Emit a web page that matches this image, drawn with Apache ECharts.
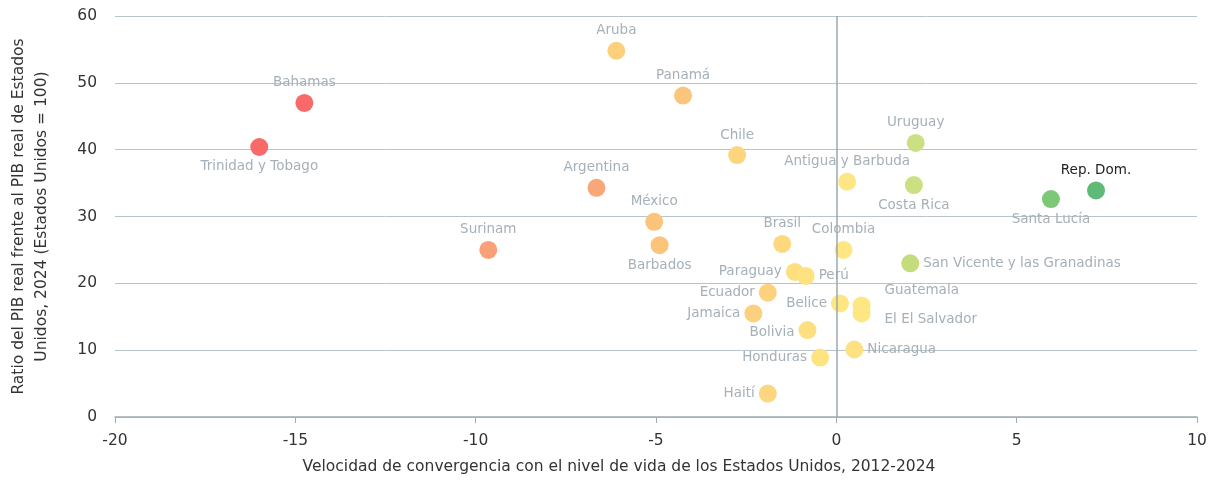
<!DOCTYPE html>
<html>
<head>
<meta charset="utf-8">
<script src="https://cdn.jsdelivr.net/npm/echarts@6/dist/echarts.min.js"></script>
<style>
  html, body { margin: 0; padding: 0; background: #fff; }
  #chart { width: 1209px; height: 482px; }
</style>
</head>
<body>
<div id="chart"></div>
<script>
// country names, x = convergence speed, y = GDP ratio vs US
const countries = ['Aruba', 'Panamá', 'Bahamas', 'Trinidad y Tobago', 'Chile', 'Uruguay',
  'Antigua y Barbuda', 'Costa Rica', 'Rep. Dom.', 'Santa Lucía', 'Argentina', 'México',
  'Surinam', 'Barbados', 'Brasil', 'Colombia', 'San Vicente y las Granadinas', 'Paraguay',
  'Perú', 'Ecuador', 'Belice', 'Guatemala', 'El El Salvador', 'Jamaica', 'Bolivia',
  'Nicaragua', 'Honduras', 'Haití']
const speed = [-6.1, -4.25, -14.75, -16.0, -2.75, 2.2, 0.3, 2.15, 7.2, 5.95, -6.65, -5.05,
  -9.65, -4.9, -1.5, 0.2, 2.05, -1.15, -0.85, -1.9, 0.1, 0.7, 0.7, -2.3, -0.8, 0.5, -0.45, -1.9]
const ratio = [54.8, 48.1, 47.0, 40.4, 39.2, 41.0, 35.2, 34.7, 33.9, 32.6, 34.3, 29.2,
  25.0, 25.7, 25.9, 25.0, 23.0, 21.7, 21.1, 18.6, 17.0, 16.7, 15.5, 15.5, 13.0, 10.1, 8.9, 3.5]
const dotColors = ['#fdd07e', '#fcc57c', '#f86a6a', '#f86a6a', '#fdd57f', '#cbe082',
  '#fee682', '#cbe082', '#5fba78', '#7cc877', '#f9a678', '#fcc47a',
  '#f9a078', '#fcc47a', '#fdd87f', '#fee682', '#c5dc7c', '#fddf80',
  '#fee181', '#fdd27e', '#fee682', '#fee682', '#fee682', '#fcd07e', '#fedf80',
  '#fee281', '#fee481', '#fdd67f']
const labelPos = ['top', 'top', 'top', 'bottom', 'top', 'top', 'top', 'bottom', 'top', 'bottom',
  'top', 'top', 'top', 'bottom', 'top', 'top', 'right', 'left', 'right', 'left', 'left',
  'right', 'right', 'left', 'left', 'right', 'left', 'left']
const xTicks = [-20, 10, 5]
const yTicks = [0, 60, 10]

const labelGrey = '#a5b0b8'
const font = '"DejaVu Sans", Inter, sans-serif'

const points = countries.map((name, i) => {
  const label = { position: labelPos[i], color: name === 'Rep. Dom.' ? '#222' : labelGrey }
  if (name === 'Guatemala') label.offset = [10, -15]
  else if (name === 'El El Salvador') label.offset = [10, 6]
  else if (name === 'Bolivia') label.offset = [0, 2]
  return {
    name,
    value: [speed[i], ratio[i]],
    itemStyle: { color: dotColors[i], opacity: 1 },
    label
  }
})

const chart = echarts.init(document.getElementById('chart'))

chart.setOption({
  animation: false,
  textStyle: { fontFamily: font },
  grid: { left: 115, right: 12, top: 16, bottom: 65, containLabel: false, outerBoundsMode: 'none' },
  xAxis: {
    type: 'value',
    min: xTicks[0],
    max: xTicks[1],
    interval: xTicks[2],
    name: 'Velocidad de convergencia con el nivel de vida de los Estados Unidos, 2012-2024',
    nameLocation: 'middle',
    nameGap: 42,
    nameTextStyle: { color: '#333', fontSize: 15.5, fontFamily: font, padding: [0, 74, 0, 0] },
    axisLine: { onZero: false, lineStyle: { color: '#a0acb3', width: 1.5 } },
    axisTick: { show: true, length: 6, lineStyle: { color: '#a0acb3' } },
    axisLabel: { color: '#333', fontSize: 15.5, margin: 16, fontFamily: font },
    splitLine: { show: false }
  },
  yAxis: {
    type: 'value',
    min: yTicks[0],
    max: yTicks[1],
    interval: yTicks[2],
    name: 'Ratio del PIB real frente al PIB real de Estados\nUnidos, 2024 (Estados Unidos = 100)',
    nameLocation: 'middle',
    nameGap: 62,
    nameTextStyle: { color: '#333', fontSize: 15.5, lineHeight: 23, fontFamily: font },
    axisLine: { show: false },
    axisTick: { show: false },
    axisLabel: { color: '#333', fontSize: 15.5, margin: 18, fontFamily: font },
    splitLine: { lineStyle: { color: '#b9c4ca', width: 1 } }
  },
  series: [
    {
      type: 'scatter',
      symbolSize: 18,
      data: points,
      label: {
        show: true,
        formatter: '{b}',
        fontSize: 13.5,
        fontFamily: font,
        distance: 4
      },
      markLine: {
        silent: true,
        symbol: 'none',
        label: { show: false },
        lineStyle: { color: '#9aa8ae', type: 'solid', width: 1.5 },
        data: [{ xAxis: 0 }]
      }
    }
  ]
})
</script>
</body>
</html>
